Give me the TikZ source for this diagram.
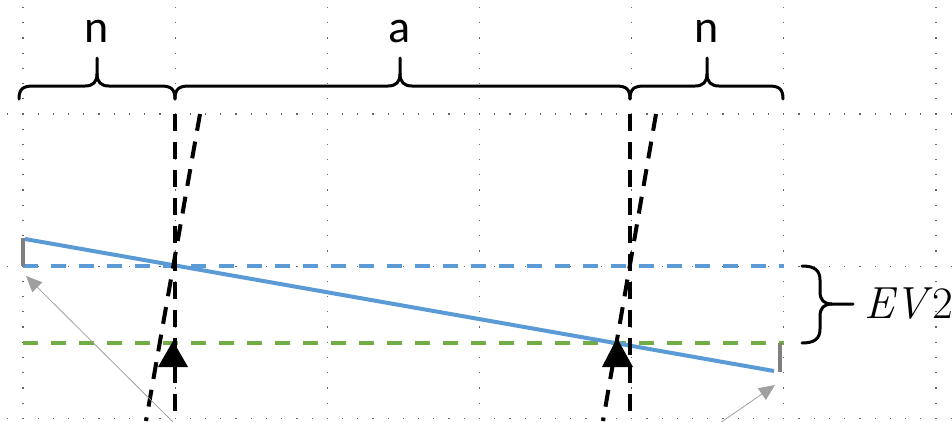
\documentclass[tikz,border=0pt]{standalone}
\usepackage{fontspec}
\newfontfamily\labelfont{Carlito}
\usetikzlibrary{arrows.meta}
\definecolor{offblue}{HTML}{5B9BD5}
\definecolor{offgreen}{HTML}{70AD47}
\definecolor{tickgray}{HTML}{7F7F7F}
\definecolor{arrgray}{HTML}{A0A0A0}
\tikzset{
  griddot/.style={fill=black!60},
  bracestroke/.style={line width=3pt, line cap=round, line join=round, black},
  blackdash/.style={line width=4pt, black, dash pattern=on 17pt off 11pt},
  bluedash/.style={line width=3.5pt, offblue, dash pattern=on 15pt off 13pt},
  greendash/.style={line width=3.5pt, offgreen, dash pattern=on 15pt off 13pt},
  slope/.style={line width=4pt, offblue},
  graytick/.style={line width=4pt, tickgray},
  pointer/.style={line width=0.8pt, arrgray, -{Triangle[length=16pt,width=14pt]}},
  headtri/.style={fill=black},
  toplabel/.style={font=\labelfont\fontsize{46}{46}\selectfont, anchor=base, inner sep=0pt},
  evlabel/.style={font=\fontsize{45}{45}\selectfont, anchor=base west, inner sep=0pt}
}
\newcommand{\topbrace}[3]{%
  \draw[bracestroke] (#1,99) .. controls (#1,89) and (#1+4,86) .. (#1+14,86)
    -- (#2-12,86) .. controls (#2-4,86) and (#2,82) .. (#2,74) -- (#2,58);
  \draw[bracestroke] (#2,74) .. controls (#2,82) and (#2+4,86) .. (#2+12,86)
    -- (#3-14,86) .. controls (#3-4,86) and (#3,89) .. (#3,99);
}
\begin{document}
\begin{tikzpicture}[x=1pt,y=-1pt]
\useasboundingbox (0,0) rectangle (952,421);
% dotted grid
\foreach \gx in {23,175.2,327.3,479.5,631.7,783.8,936} {
  \foreach \k in {-7,...,20} {
    \fill[griddot] (\gx-0.6,114+\k*15.217-0.6) rectangle ++(1.2,1.2);
  }
}
\foreach \gy in {114,266.2,418.4} {
  \foreach \k in {-1,...,61} {
    \fill[griddot] (23+\k*15.217-0.6,\gy-0.6) rectangle ++(1.2,1.2);
  }
}
% coordinates
\coordinate (bl) at (23,266); \coordinate (br) at (784,266);
\coordinate (gl) at (23,343); \coordinate (gr) at (784,343);
\coordinate (s0) at (25,239); \coordinate (s1) at (774,371);
\coordinate (t0a) at (23,238); \coordinate (t0b) at (23,266);
\coordinate (t1a) at (780,343); \coordinate (t1b) at (780,372);
\coordinate (v1a) at (175,114); \coordinate (v1b) at (175,421);
\coordinate (d1a) at (200,114); \coordinate (d1b) at (146,421);
\coordinate (v2a) at (630,114); \coordinate (v2b) at (630,421);
\coordinate (d2a) at (656,114); \coordinate (d2b) at (603,421);
\coordinate (p1a) at (174,423); \coordinate (p1b) at (26,276);
\coordinate (p2a) at (720,423); \coordinate (p2b) at (775,385);
% horizontal levels
\draw[bluedash] (bl) -- (br);
\draw[greendash] (gl) -- (gr);
% sloped line and ticks
\draw[graytick] (t0a) -- (t0b);
\draw[graytick] (t1a) -- (t1b);
\draw[slope] (s0) -- (s1);
% black dashed lines
\draw[blackdash] (v1a) -- (v1b);
\draw[blackdash] (d1a) -- (d1b);
\draw[blackdash] (v2a) -- (v2b);
\draw[blackdash] (d2a) -- (d2b);
% triangles
\fill[headtri] (173,341) -- (158,367) -- (188,367) -- cycle;
\fill[headtri] (617,338) -- (602,367) -- (633,367) -- cycle;
% gray pointers
\draw[pointer] (p1a) -- (p1b);
\draw[pointer] (p2a) -- (p2b);
% top braces
\topbrace{19}{97}{175}
\topbrace{175}{400}{630}
\topbrace{630}{707}{783}
\node[toplabel] (ln1) at (97,42) {n};
\node[toplabel] (la) at (400,42) {a};
\node[toplabel] (ln2) at (707,42) {n};
% EV2 brace
\draw[bracestroke] (802,266) .. controls (814,266) and (820,270) .. (820,280)
  -- (820,292) .. controls (820,300) and (824,304) .. (832,304) -- (853,304);
\draw[bracestroke] (832,304) .. controls (824,304) and (820,308) .. (820,316)
  -- (820,329) .. controls (820,339) and (814,343) .. (802,343);
\node[evlabel] (ev) at (864,318) {\textit{EV}2};
\end{tikzpicture}
\end{document}
